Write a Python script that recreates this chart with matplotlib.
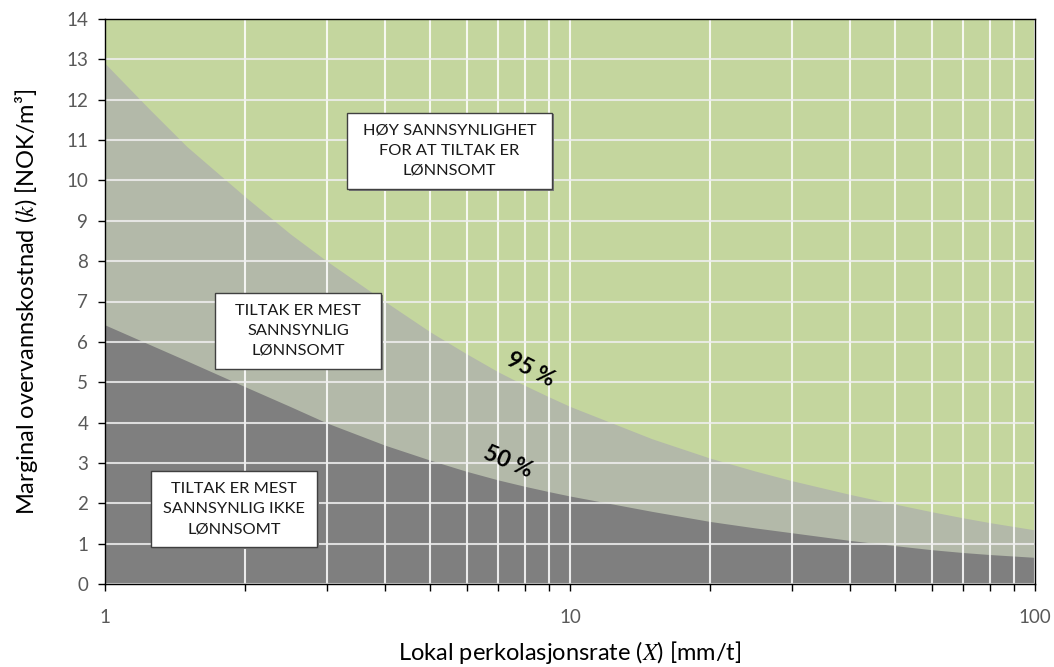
import numpy as np
import matplotlib.pyplot as plt
from matplotlib.patches import Rectangle
from matplotlib.ticker import FixedLocator, NullFormatter, LogLocator

plt.rcParams['font.family'] = ['Lato', 'DejaVu Sans']
plt.rcParams['mathtext.fontset'] = 'stix'

# Data
x_pts = [1, 1.25, 1.5, 2, 2.5, 3, 4, 5, 6, 7, 8, 9, 10,
         15, 20, 25, 30, 40, 50, 60, 70, 80, 100]
k95 = [12.9, 11.75, 10.84, 9.6, 8.68, 8.0, 7.0, 6.25, 5.7, 5.26, 4.92, 4.64, 4.40,
       3.6, 3.12, 2.8, 2.56, 2.22, 1.98, 1.79, 1.64, 1.52, 1.34]
k50 = [6.42, 5.93, 5.53, 4.89, 4.40, 3.99, 3.44, 3.07, 2.79, 2.58, 2.42, 2.29, 2.18,
       1.80, 1.55, 1.39, 1.27, 1.08, 0.95, 0.85, 0.78, 0.73, 0.66]

y_ticks = list(range(0, 15))
x_ticks = [1, 10, 100]
x_tick_labels = ['1', '10', '100']

zone_texts = ['HØY SANNSYNLIGHET\nFOR AT TILTAK ER\nLØNNSOMT',
              'TILTAK ER MEST\nSANNSYNLIG\nLØNNSOMT',
              'TILTAK ER MEST\nSANNSYNLIG IKKE\nLØNNSOMT']
curve_labels = ['95 %', '50 %']

fig = plt.figure(figsize=(10.54, 6.67), dpi=100)
ax = fig.add_axes([105 / 1054, 83 / 667, 930 / 1054, 565 / 667])

green = '#c4d69e'
light = '#b3b9a9'
dark = '#7f7f7f'

ax.set_xscale('log')
ax.set_xlim(1, 100)
ax.set_ylim(0, 14)

ax.fill_between(x_pts, 0, 14, color=green, lw=0, zorder=0)
ax.fill_between(x_pts, 0, k95, color=light, lw=0, zorder=0.5)
ax.fill_between(x_pts, 0, k50, color=dark, lw=0, zorder=0.6)

# grid
ax.xaxis.set_major_locator(FixedLocator(x_ticks))
ax.xaxis.set_minor_locator(LogLocator(base=10, subs=np.arange(2, 10)))
ax.xaxis.set_minor_formatter(NullFormatter())
ax.set_xticklabels(x_tick_labels)
ax.set_yticks(y_ticks)
ax.grid(True, which='both', axis='x', color='white', lw=1.5, alpha=0.85, zorder=1)
ax.grid(True, which='major', axis='y', color='#eeeeee', lw=1.5, alpha=0.85, zorder=1)

for s in ax.spines.values():
    s.set_color('black')
    s.set_linewidth(1.0)
    s.set_zorder(3)

ax.tick_params(axis='both', which='both', direction='out', length=5, width=1,
               color='black', labelcolor='#595959', labelsize=13.5)
ax.tick_params(axis='x', which='major', pad=13)
ax.tick_params(axis='y', pad=7)

ax.set_xlabel('Lokal perkolasjonsrate ($X$) [mm/t]', fontsize=17, labelpad=9)
ax.set_ylabel('Marginal overvannskostnad ($k$) [NOK/m³]', fontsize=17, labelpad=19)

# tekstbokser (axes-koordinater)
boxes = [(0.260, 0.699, 0.221, 0.135),
         (0.118, 0.381, 0.179, 0.134),
         (0.0495, 0.0655, 0.1785, 0.1345)]
for (bx, by, bw, bh), txt in zip(boxes, zone_texts):
    ax.add_patch(Rectangle((bx + 0.002, by - 0.003), bw, bh, transform=ax.transAxes,
                           facecolor='#7a7a7a', edgecolor='none', zorder=4))
    ax.add_patch(Rectangle((bx, by), bw, bh, transform=ax.transAxes,
                           facecolor='white', edgecolor='#404040', lw=1.0, zorder=5))
    ax.text(bx + bw / 2, by + bh / 2, txt, transform=ax.transAxes, ha='center', va='center',
            fontsize=11.8, linespacing=1.55, color='#1a1a1a', zorder=6)

ax.text(0.458, 0.380, curve_labels[0], transform=ax.transAxes, ha='center', va='center',
        fontsize=16.5, fontweight='bold', rotation=-27, zorder=6)
ax.text(0.433, 0.216, curve_labels[1], transform=ax.transAxes, ha='center', va='center',
        fontsize=16.5, fontweight='bold', rotation=-23, zorder=6)

fig.savefig('out.png', dpi=100)
